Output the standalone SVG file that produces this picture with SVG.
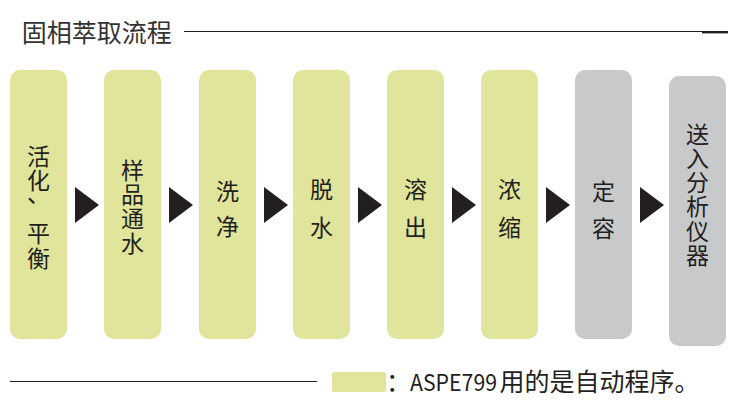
<svg xmlns="http://www.w3.org/2000/svg" width="730" height="400" viewBox="0 0 730 400">
<style>
.g{fill:#e0e59b}
.k{fill:#c8c9cb}
.t{font-family:"Noto Sans CJK SC","Noto Sans",sans-serif;font-size:23px;fill:#231f20;text-anchor:middle}
.v{font-family:"Noto Sans CJK SC","Noto Sans",sans-serif;font-size:23px;fill:#231f20;writing-mode:vertical-rl;text-anchor:start}
.a{fill:#231f20}
.ln{stroke:#231f20;stroke-width:1.2;fill:none}
</style>
<rect width="730" height="400" fill="#ffffff"/>
<g id="title">
<text x="21.7" y="42" style="font-family:'Noto Sans CJK SC','Noto Sans',sans-serif;font-size:25px;fill:#333333">固相萃取流程</text>
<line class="ln" x1="184" y1="31.5" x2="703" y2="31.5"/>
<line x1="702" y1="32.2" x2="728" y2="32.2" stroke="#231f20" stroke-width="2.4"/>
</g>
<g id="n1"><rect class="g" x="10" y="70" width="57" height="269" rx="10"/>
<text class="v" x="38.5" y="144.5" letter-spacing="1">活化</text>
<text class="t" x="38.5" y="202">、</text>
<text class="v" x="38.5" y="221.5" letter-spacing="2">平衡</text></g>
<g id="n2"><rect class="g" x="104" y="70" width="57" height="269" rx="10"/>
<text class="v" x="132.5" y="158.5" letter-spacing="1.3">样品通水</text></g>
<g id="n3"><rect class="g" x="199" y="70" width="57" height="269" rx="10"/>
<text class="v" x="227.5" y="179.5" letter-spacing="12">洗净</text></g>
<g id="n4"><rect class="g" x="293" y="70" width="57" height="269" rx="10"/>
<text class="v" x="321.5" y="177.5" letter-spacing="15">脱水</text></g>
<g id="n5"><rect class="g" x="387" y="70" width="57" height="269" rx="10"/>
<text class="v" x="415.5" y="177.5" letter-spacing="15">溶出</text></g>
<g id="n6"><rect class="g" x="481" y="70" width="57" height="269" rx="10"/>
<text class="v" x="509.5" y="177.5" letter-spacing="15">浓缩</text></g>
<g id="n7"><rect class="k" x="575" y="70" width="57" height="269" rx="10"/>
<text class="v" x="603.5" y="179.5" letter-spacing="14">定容</text></g>
<g id="n8"><rect class="k" x="669" y="76" width="57" height="270" rx="10"/>
<text class="v" x="697.5" y="122.5" letter-spacing="1.2">送入分析仪器</text></g>
<g id="connectors">
<polygon class="a" points="75,187 99,205 75,223"/>
<polygon class="a" points="169,187 193,205 169,223"/>
<polygon class="a" points="264,187 288,205 264,223"/>
<polygon class="a" points="358,187 382,205 358,223"/>
<polygon class="a" points="452,187 476,205 452,223"/>
<polygon class="a" points="546,187 570,205 546,223"/>
<polygon class="a" points="640,187 664,205 640,223"/>
</g>
<g id="legend">
<line class="ln" x1="10" y1="381.5" x2="317" y2="381.5"/>
<rect class="g" x="332" y="372" width="54" height="20" rx="2"/>
<text y="391" style="font-family:'Noto Sans CJK SC','Noto Sans',sans-serif;font-size:25px;fill:#231f20"><tspan x="386">：</tspan><tspan x="410" font-size="23" textLength="87" lengthAdjust="spacingAndGlyphs">ASPE799</tspan><tspan x="499.5">用的是自动程序。</tspan></text>
</g>
</svg>
